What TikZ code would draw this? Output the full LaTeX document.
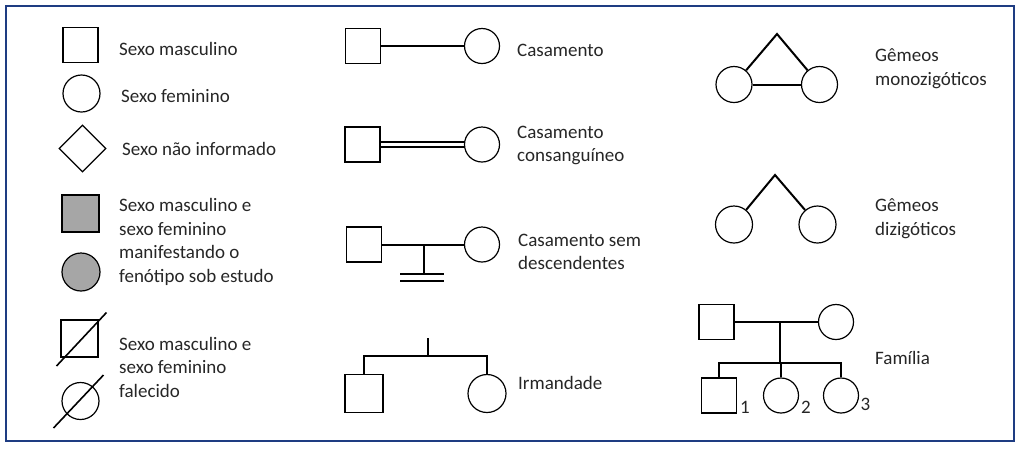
\documentclass[tikz,border=0pt]{standalone}
\usepackage{fontspec}
\setmainfont{Carlito}
\usepackage{tikz}
\usetikzlibrary{positioning,calc,shapes.geometric}
\definecolor{framebl}{RGB}{30,60,130}
\definecolor{affgray}{RGB}{166,166,166}

\begin{document}
\begin{tikzpicture}[
    x=1pt, y=-1pt,
    male/.style={draw, line width=1.2pt, minimum size=35pt, inner sep=0pt},
    female/.style={draw, circle, line width=1.2pt, minimum size=35pt, inner sep=0pt},
    unknown/.style={draw, diamond, line width=1.2pt, minimum size=47pt, inner sep=0pt},
    lbl/.style={anchor=west, align=left, inner sep=0pt, text=black!85,
        font=\fontsize{19}{23.5}\selectfont},
    num/.style={inner sep=0pt, text=black!85, font=\fontsize{19}{23.5}\selectfont},
    rel/.style={line width=2pt},
]
    \useasboundingbox (0,0) rectangle (1024,451);
    \draw[framebl, line width=2.5pt] (6,6) rectangle (1014,441);

    % Coluna 1: simbolos
    \node[male] (msq) at (80.5,45) {};
    \node[lbl] (tmsq) at (119,49) {Sexo masculino};
    \node[female] (fci) at (81.5,93.5) [minimum size=37pt] {};
    \node[lbl] (tfci) at (121,96.5) {Sexo feminino};
    \node[unknown] (udm) at (82.5,148.5) {};
    \node[lbl] (tudm) at (122,148.5) {Sexo não informado};
    \node[male, fill=affgray, minimum size=37pt] (asq) at (80.5,213.5) {};
    \node[female, fill=affgray, minimum size=38pt] (aci) at (81,272) {};
    \node[lbl] (taff) at (119,242) {Sexo masculino e\\sexo feminino\\manifestando o\\fenótipo sob estudo};
    \node[male, minimum size=37pt] (dsq) at (79.5,338.5) {};
    \node[female, minimum size=37pt] (dci) at (80.5,401) {};
    \draw[line width=1.6pt] ($(dsq)+(-23,27.5)$) -- ($(dsq)+(27,-26)$);
    \draw[line width=1.6pt] ($(dci)+(-27,27)$) -- ($(dci)+(23,-26)$);
    \node[lbl] (tdec) at (119,367) {Sexo masculino e\\sexo feminino\\falecido};

    % Coluna 2: casamentos e irmandade
    \node[male] (cmsq) at (363,46) {};
    \node[female] (cmci) at (482,46) {};
    \draw[rel] (cmsq) -- (cmci);
    \node[lbl] (tcm) at (517,50) {Casamento};

    \node[male] (cssq) at (362.5,144.5) {};
    \node[female] (csci) at (482,144.5) {};
    \draw[rel, line width=1.8pt] ([yshift=2.6pt]cssq.east) -- ([yshift=2.6pt]csci.west);
    \draw[rel, line width=1.8pt] ([yshift=-2.6pt]cssq.east) -- ([yshift=-2.6pt]csci.west);
    \node[lbl] (tcs) at (517,145.5) {Casamento\\consanguíneo};

    \node[male] (sdsq) at (364,244.5) {};
    \node[female] (sdci) at (482,244.5) {};
    \coordinate (sdtop) at (424,244.5);
    \coordinate (sdbot) at (424,274);
    \draw[rel] (sdsq) -- (sdci);
    \draw[rel] (sdtop) -- (sdbot);
    \draw[rel] ($(sdbot)+(-24,0)$) -- ($(sdbot)+(20,0)$);
    \draw[rel] ($(sdbot)+(-24,7)$) -- ($(sdbot)+(20,7)$);
    \node[lbl] (tsd) at (518,252) {Casamento sem\\descendentes};

    \node[male, minimum size=38pt] (irsq) at (364,393.5) {};
    \node[female, minimum size=38pt] (irci) at (487,393.5) {};
    \coordinate (irtop) at (428,338);
    \coordinate (irbar) at (428,356);
    \draw[rel] (irtop) -- (irbar);
    \draw[rel] (irsq.north) |- (irbar) -| (irci.north);
    \node[lbl] (tir) at (518,383) {Irmandade};

    % Coluna 3: gemeos e familia
    \node[female, minimum size=36pt] (mzl) at (734,84.5) {};
    \node[female, minimum size=36pt] (mzr) at (819.5,84.5) {};
    \coordinate (mzapex) at (777,34);
    \draw[rel] (mzl) -- (mzapex) -- (mzr);
    \draw[rel] (mzl) -- (mzr);
    \node[lbl] (tmz) at (875,68.5) {Gêmeos\\monozigóticos};

    \node[female, minimum size=37pt] (dzl) at (734,224.5) {};
    \node[female, minimum size=37pt] (dzr) at (817.5,224.5) {};
    \coordinate (dzapex) at (775,175);
    \draw[rel] (dzl) -- (dzapex) -- (dzr);
    \node[lbl] (tdz) at (875,218.5) {Gêmeos\\dizigóticos};

    \node[male] (fa) at (716.5,322) {};
    \node[female] (mo) at (836,322) {};
    \coordinate (fmid) at (780,322);
    \coordinate (sib) at (780,362.7);
    \node[male] (ch1) at (719,395.5) {};
    \node[female] (ch2) at (781,395.5) {};
    \node[female] (ch3) at (841,395.5) {};
    \draw[rel] (fa) -- (mo);
    \draw[rel] (fmid) -- (sib);
    \draw[rel] (ch1.north) |- (sib) -| (ch3.north);
    \draw[rel] (ch2.north) -- (ch2.north |- sib);
    \node[num] (n1) at (745,407) {1};
    \node[num] (n2) at (806,407) {2};
    \node[num] (n3) at (865.5,404.5) {3};
    \node[lbl] (tfam) at (875,358) {Família};
\end{tikzpicture}
\end{document}
